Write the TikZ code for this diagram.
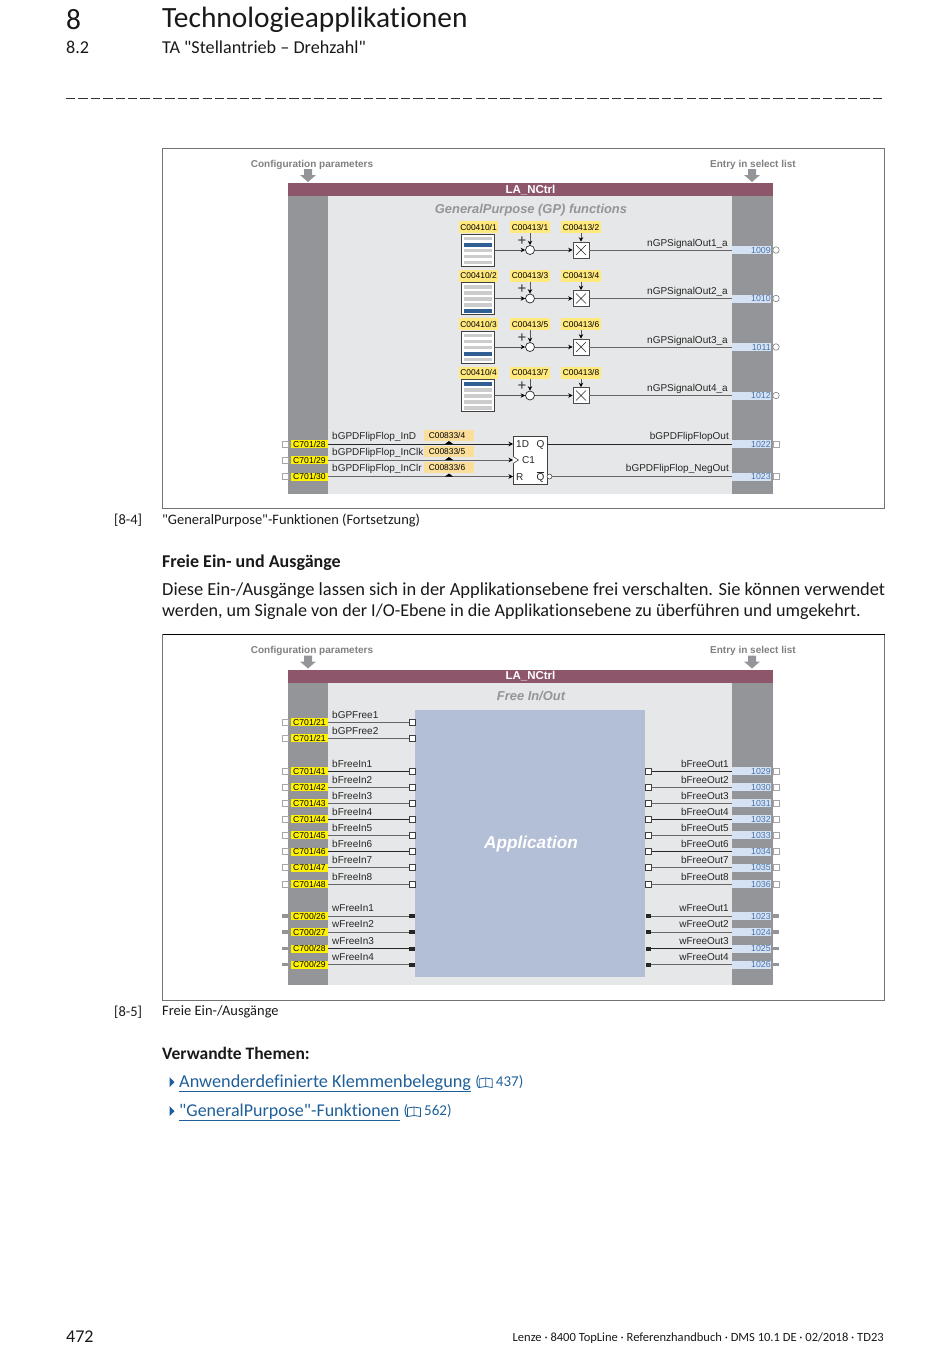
\documentclass[tikz,border=0pt]{standalone}
\usepackage{fontspec}
\setmainfont{Carlito}
\newfontfamily\pagefont{Carlito}[Ligatures=NoCommon]
\newfontfamily\diagfont{Liberation Sans}
\usetikzlibrary{arrows.meta,positioning}
\definecolor{barred}{HTML}{8E566B}
\definecolor{colgrey}{HTML}{939598}
\definecolor{panelbg}{HTML}{E6E7E8}
\definecolor{appblue}{HTML}{B3BFD6}
\definecolor{paryellow}{HTML}{FFF200}
\definecolor{codeyellow}{HTML}{FFE87C}
\definecolor{codeorange}{HTML}{FBDE9A}
\definecolor{listblue}{HTML}{D5E2F3}
\definecolor{listtext}{HTML}{4A74AB}
\definecolor{linkblue}{HTML}{1F5F99}
\definecolor{rowblue}{HTML}{2F5F93}
\tikzset{
pagetext/.style={anchor=west,inner sep=0pt,text=black!90,execute at begin node=\pagefont},
diagtext/.style={inner sep=0pt,text=black!85,font=\diagfont\fontsize{10}{11}\selectfont},
headtext/.style={inner sep=0pt,text=black!50,font=\diagfont\bfseries\fontsize{10}{11}\selectfont},
partext/.style={inner sep=0pt,minimum width=37pt,minimum height=8pt,text height=6.4pt,text depth=0pt,fill=paryellow,text=black,font=\diagfont\fontsize{8.6}{9}\selectfont},
codetext/.style={inner sep=0pt,minimum width=39pt,minimum height=12pt,fill=codeyellow,text=black,font=\diagfont\fontsize{8.4}{9}\selectfont},
ordertext/.style={inner sep=0pt,minimum width=50pt,minimum height=11pt,fill=codeorange},
ordercode/.style={inner sep=0pt,text=black,font=\diagfont\fontsize{8.4}{9}\selectfont},
listtag/.style={inner sep=.5pt,minimum height=8pt,text height=6.4pt,text depth=0pt,text width=38pt,align=right,fill=listblue,text=listtext,font=\diagfont\fontsize{8.8}{9}\selectfont},
opensq/.style={draw=black!35,fill=white,line width=.6pt,inner sep=0pt,minimum size=6pt},
pinsq/.style={draw=black!75,fill=white,line width=.8pt,inner sep=0pt,minimum size=6pt},
greytab/.style={fill=colgrey,inner sep=0pt,minimum width=6pt,minimum height=3.5pt},
blacktab/.style={fill=black!85,inner sep=0pt,minimum width=5.5pt,minimum height=4pt},
sig/.style={draw=black!60,line width=.8pt},
sigdark/.style={draw=black!85,line width=1pt},
feed/.style={draw=black!65,line width=.7pt,-{Stealth[length=4.5pt,width=4.5pt,color=black]}},
ringout/.style={circle,draw=black!50,fill=white,line width=.6pt,inner sep=0pt,minimum size=6.5pt},
sumring/.style={circle,draw=black!85,fill=white,line width=.7pt,inner sep=0pt,minimum size=9pt},
crossbox/.style={draw=black!70,fill=white,line width=.7pt,inner sep=0pt,minimum size=16pt},
tablebox/.style={draw=black!75,fill=white,line width=.8pt,inner sep=0pt,minimum width=33pt,minimum height=32pt},
bullet/.style={fill=linkblue},
link/.style={pagetext,text=linkblue,font=\fontsize{18.25}{22}\selectfont},
linkref/.style={pagetext,text=linkblue,font=\fontsize{15}{18}\selectfont},
bookicon/.style={linkblue,line width=.8pt},
barhead/.style={fill=barred,minimum width=485pt,minimum height=13pt,inner sep=0pt,text height=8.5pt,text depth=1pt,text=white,font=\diagfont\bfseries\fontsize{11.5}{12}\selectfont}
}
% left signal: name, y, parameter, text, line style
\newcommand{\boolin}[5]{
\node[opensq] (#1sq) at (285,#2) {};
\node[partext] (#1par) at (309.5,#2) {#3};
\node[diagtext,anchor=west] (#1txt) at (332,#2-7.5) {#4};
\node[pinsq] (#1pin) at (412,#2) {};
\draw[#5] (#1par.east) -- (#1pin.west);
}
\newcommand{\wordin}[5]{
\node[greytab] (#1sq) at (285,#2) {};
\node[partext] (#1par) at (309.5,#2) {#3};
\node[diagtext,anchor=west] (#1txt) at (332,#2-7.5) {#4};
\node[blacktab] (#1pin) at (412,#2) {};
\draw[#5] (#1par.east) -- (#1pin.west);
}
% right signal: name, y, list number, text, line style
\newcommand{\boolout}[5]{
\node[pinsq] (#1pin) at (648.5,#2) {};
\node[diagtext,anchor=east] (#1txt) at (729,#2-7.5) {#4};
\node[listtag,anchor=west] (#1tag) at (732,#2) {#3};
\node[opensq] (#1sq) at (776,#2) {};
\draw[#5] (#1pin.east) -- (#1tag.west);
}
\newcommand{\wordout}[5]{
\node[blacktab] (#1pin) at (648.5,#2) {};
\node[diagtext,anchor=east] (#1txt) at (729,#2-7.5) {#4};
\node[listtag,anchor=west] (#1tag) at (732,#2) {#3};
\node[greytab] (#1sq) at (776,#2) {};
\draw[#5] (#1pin.east) -- (#1tag.west);
}
% function group: name, y of signal, three codes, dark row, text, list number
\newcommand{\gpgroup}[8]{
\node[codetext] (#1a) at (478.5,#2-23) {#3};
\node[codetext,minimum width=40pt] (#1b) at (530,#2-23) {#4};
\node[codetext,minimum width=40pt] (#1c) at (581,#2-23) {#5};
\node[tablebox] (#1tab) at (477.5,#2) {};
\fill[black!20] (463.5,#2-13.5) rectangle (491.5,#2-10);
\fill[black!20] (463.5,#2-7.5) rectangle (491.5,#2-4);
\fill[black!20] (463.5,#2-1.5) rectangle (491.5,#2+2);
\fill[black!20] (463.5,#2+4.5) rectangle (491.5,#2+8);
\fill[black!20] (463.5,#2+10.5) rectangle (491.5,#2+14);
\fill[rowblue] (463.5,#2-19.5+6*#6) rectangle (491.5,#2-15.5+6*#6);
\node[sumring] (#1sum) at (530,#2) {};
\node[inner sep=0pt,text=black!80,font=\diagfont\fontsize{15}{15}\selectfont] (#1plus) at (522,#2-9) {+};
\node[crossbox] (#1box) at (581,#2) {};
\draw[black!85,line width=.6pt] (#1box.center)+(-5,-5) -- +(5,5) +(-5,5) -- +(5,-5);
\node[diagtext,anchor=east] (#1txt) at (728,#2-6.5) {#7};
\node[listtag,anchor=west] (#1tag) at (732,#2) {#8};
\node[ringout] (#1out) at (776,#2) {};
\draw[feed] (#1tab.east) -- (#1sum.west);
\draw[feed] (#1sum.east) -- (#1box.west);
\draw[feed] (#1b.south) -- (#1sum.north);
\draw[feed] (#1c.south) -- (#1box.north);
\draw[sig] (#1box.east) -- (#1tag.west);
}
\begin{document}
\begin{tikzpicture}[x=1pt,y=-1pt]
\path[use as bounding box] (0,0) rectangle (950,1370);
% page head
\node[pagetext,font=\fontsize{29.4}{32}\selectfont] (chapno) at (66,20) {8};
\node[pagetext,font=\fontsize{29.4}{32}\selectfont] (chaptitle) at (162,20) {Technologieapplikationen};
\node[pagetext,font=\fontsize{18.15}{21}\selectfont] (secno) at (66,47.5) {8.2};
\node[pagetext,font=\fontsize{18.15}{21}\selectfont] (sectitle) at (162,47.5) {TA "Stellantrieb – Drehzahl"};
\draw[black!80,line width=.8pt,dash pattern=on 9.3pt off 3.11pt] (66,98) -- (882,98);
% first figure
\draw[black!55,line width=.7pt] (162.5,148.5) rectangle (884.5,508.5);
\node[headtext] (cfgA) at (312,164.5) {Configuration parameters};
\node[headtext] (entA) at (753,164.5) {Entry in select list};
\fill[colgrey] (304,169) -- (312,169) -- (312,175) -- (316,175) -- (308,182) -- (300,175) -- (304,175) -- cycle;
\fill[colgrey] (748,169) -- (756,169) -- (756,175) -- (760,175) -- (752,182) -- (744,175) -- (748,175) -- cycle;
\fill[panelbg] (328,196) rectangle (732,494);
\fill[colgrey] (288,196) rectangle (328,494);
\fill[colgrey] (732,196) rectangle (773,494);
\node[barhead] (barA) at (530.5,189.5) {LA\_NCtrl};
\node[inner sep=0pt,text=colgrey,font=\diagfont\bfseries\itshape\fontsize{12.9}{14}\selectfont] (gptitle) at (531,210.5) {GeneralPurpose (GP) functions};
\gpgroup{gpa}{250}{C00410/1}{C00413/1}{C00413/2}{2}{nGPSignalOut1\_a}{1009}
\gpgroup{gpb}{298.5}{C00410/2}{C00413/3}{C00413/4}{5}{nGPSignalOut2\_a}{1010}
\gpgroup{gpc}{347}{C00410/3}{C00413/5}{C00413/6}{4}{nGPSignalOut3\_a}{1011}
\gpgroup{gpd}{395.5}{C00410/4}{C00413/7}{C00413/8}{1}{nGPSignalOut4\_a}{1012}
% flip-flop
\node[draw=black!75,fill=white,line width=.8pt,inner sep=0pt,minimum width=34pt,minimum height=48pt] (ff) at (530,460) {};
\coordinate (ffD) at (513,444);
\coordinate (ffC) at (513,460);
\coordinate (ffR) at (513,476.5);
\coordinate (ffQ) at (547,444);
\node[diagtext,anchor=west] (ffDtxt) at (516,444.5) {1D};
\node[diagtext,anchor=west] (ffCtxt) at (522,460.5) {C1};
\node[diagtext,anchor=west] (ffRtxt) at (516,477) {R};
\node[diagtext,anchor=west] (ffQtxt) at (536.5,444.5) {Q};
\node[diagtext,anchor=west] (ffNtxt) at (536.5,477) {$\overline{\mbox{Q}}$};
\draw[black!75,line width=.6pt,fill=white] (513,456.5) -- (518.5,460) -- (513,463.5);
\node[ringout,draw=black!70,minimum size=5pt] (ffN) at (549.5,476.5) {};
\node[partext] (parD) at (309.5,444) {C701/28};
\node[partext] (parC) at (309.5,460) {C701/29};
\node[partext] (parR) at (309.5,476.5) {C701/30};
\node[opensq] (sqD) at (285,444) {};
\node[opensq] (sqC) at (285,460) {};
\node[opensq] (sqR) at (285,476.5) {};
\node[ordertext] (ordD) at (449,435.5) {};
\node[ordertext] (ordC) at (449,451.5) {};
\node[ordertext] (ordR) at (449,467.5) {};
\node[diagtext,anchor=west] (txtD) at (332,436.5) {bGPDFlipFlop\_InD};
\node[diagtext,anchor=west] (txtC) at (332,452.5) {bGPDFlipFlop\_InClk};
\node[diagtext,anchor=west] (txtR) at (332,468.5) {bGPDFlipFlop\_InClr};
\node[ordercode] (codeD) at (447,435.5) {C00833/4};
\node[ordercode] (codeC) at (447,451.5) {C00833/5};
\node[ordercode] (codeR) at (447,467.5) {C00833/6};
\draw[sigdark,-{Stealth[length=4.5pt,width=4.5pt,color=black]}] (parD.east) -- (ffD);
\draw[sig,-{Stealth[length=4.5pt,width=4.5pt,color=black]}] (parC.east) -- (ffC);
\draw[sig,-{Stealth[length=4.5pt,width=4.5pt,color=black]}] (parR.east) -- (ffR);
\fill[black] (445,444) -- (449,441) -- (453,444) -- cycle;
\fill[black] (445,460) -- (449,457) -- (453,460) -- cycle;
\fill[black] (445,476.5) -- (449,473.5) -- (453,476.5) -- cycle;
\node[listtag,anchor=west] (tagQ) at (732,444) {1022};
\node[listtag,anchor=west] (tagN) at (732,476.5) {1023};
\node[opensq] (endQ) at (776,444) {};
\node[opensq] (endN) at (776,476.5) {};
\node[diagtext,anchor=east] (txtQ) at (729,436.5) {bGPDFlipFlopOut};
\node[diagtext,anchor=east] (txtN) at (729,468.5) {bGPDFlipFlop\_NegOut};
\draw[sigdark] (ffQ) -- (tagQ.west);
\draw[sig] (ffN.east) -- (tagN.west);
% captions and text
\node[pagetext,font=\fontsize{14.45}{18}\selectfont] (capnoA) at (114,520) {[8-4]};
\node[pagetext,font=\fontsize{14.45}{18}\selectfont] (capA) at (162,520) {"GeneralPurpose"-Funktionen (Fortsetzung)};
\node[pagetext,font=\bfseries\fontsize{18}{21}\selectfont] (headfree) at (162,562.5) {Freie Ein- und Ausgänge};
\node[pagetext,font=\fontsize{18.43}{22}\selectfont] (paraA) at (162,591) {Diese Ein-/Ausgänge lassen sich in der Applikationsebene frei verschalten. Sie können verwendet};
\node[pagetext,font=\fontsize{18.1}{22}\selectfont] (paraB) at (162,611.5) {werden, um Signale von der I/O-Ebene in die Applikationsebene zu überführen und umgekehrt.};
% second figure
\draw[black!55,line width=.7pt] (162.5,634.5) rectangle (884.5,1000);
\draw[black,line width=.8pt] (162.5,634.5) -- (884.5,634.5);
\node[headtext] (cfgB) at (312,650.5) {Configuration parameters};
\node[headtext] (entB) at (753,650.5) {Entry in select list};
\fill[colgrey] (304,655.5) -- (312,655.5) -- (312,661.5) -- (316,661.5) -- (308,668.5) -- (300,661.5) -- (304,661.5) -- cycle;
\fill[colgrey] (748,655.5) -- (756,655.5) -- (756,661.5) -- (760,661.5) -- (752,668.5) -- (744,661.5) -- (748,661.5) -- cycle;
\fill[panelbg] (328,682) rectangle (732,985);
\fill[colgrey] (288,682) rectangle (328,985);
\fill[colgrey] (732,682) rectangle (773,985);
\node[barhead] (barB) at (530.5,676) {LA\_NCtrl};
\node[inner sep=0pt,text=colgrey,font=\diagfont\bfseries\itshape\fontsize{12.9}{14}\selectfont] (freetitle) at (531,696) {Free In/Out};
\node[fill=appblue,minimum width=230pt,minimum height=267pt,inner sep=0pt,text depth=1.5pt,text=white,font=\diagfont\bfseries\itshape\fontsize{17.2}{19}\selectfont] (app) at (530,843.5) {\hspace*{2pt}Application};
\boolin{fa}{722}{C701/21}{bGPFree1}{sig}
\boolin{fb}{738}{C701/21}{bGPFree2}{sig}
\boolin{ia}{771}{C701/41}{bFreeIn1}{sigdark}
\boolin{ib}{787}{C701/42}{bFreeIn2}{sig}
\boolin{ic}{803}{C701/43}{bFreeIn3}{sig}
\boolin{id}{819}{C701/44}{bFreeIn4}{sigdark}
\boolin{ie}{835}{C701/45}{bFreeIn5}{sig}
\boolin{if}{851.5}{C701/46}{bFreeIn6}{sigdark}
\boolin{ig}{867.5}{C701/47}{bFreeIn7}{sig}
\boolin{ih}{884}{C701/48}{bFreeIn8}{sig}
\wordin{wa}{916}{C700/26}{wFreeIn1}{sig}
\wordin{wb}{932}{C700/27}{wFreeIn2}{sig}
\wordin{wc}{948.5}{C700/28}{wFreeIn3}{sigdark}
\wordin{wd}{964.5}{C700/29}{wFreeIn4}{sig}
\boolout{oa}{771}{1029}{bFreeOut1}{sigdark}
\boolout{ob}{787}{1030}{bFreeOut2}{sig}
\boolout{oc}{803}{1031}{bFreeOut3}{sig}
\boolout{od}{819}{1032}{bFreeOut4}{sigdark}
\boolout{oe}{835}{1033}{bFreeOut5}{sig}
\boolout{of}{851.5}{1034}{bFreeOut6}{sigdark}
\boolout{og}{867.5}{1035}{bFreeOut7}{sig}
\boolout{oh}{884}{1036}{bFreeOut8}{sig}
\wordout{xa}{916}{1023}{wFreeOut1}{sig}
\wordout{xb}{932}{1024}{wFreeOut2}{sig}
\wordout{xc}{948.5}{1025}{wFreeOut3}{sigdark}
\wordout{xd}{964.5}{1026}{wFreeOut4}{sig}
\node[pagetext,font=\fontsize{14.45}{18}\selectfont] (capnoB) at (114,1012) {[8-5]};
\node[pagetext,font=\fontsize{14.45}{18}\selectfont] (capB) at (162,1012) {Freie Ein-/Ausgänge};
% related topics
\node[pagetext,font=\bfseries\fontsize{17.5}{21}\selectfont] (headrel) at (162,1053.5) {Verwandte Themen:};
\fill[bullet] (169.5,1077) -- (174.5,1082) -- (169.5,1087) -- cycle;
\fill[bullet] (169.5,1106) -- (174.5,1111) -- (169.5,1116) -- cycle;
\node[link] (lnkA) at (179,1082.5) {Anwenderdefinierte Klemmenbelegung};
\node[link,font=\fontsize{18}{22}\selectfont] (lnkB) at (179,1111.5) {"GeneralPurpose"-Funktionen};
\draw[linkblue,line width=.8pt] (179,1091.5) -- (lnkA.south east |- 0,1091.5);
\draw[linkblue,line width=.8pt] (179,1120.5) -- (lnkB.south east |- 0,1120.5);
\node[linkref,right=4pt of lnkA] (refA) {(\hspace{16pt}437)};
\node[linkref,right=4pt of lnkB] (refB) {(\hspace{16pt}562)};
\draw[bookicon,shift={(refA.west)}] (4,-3.5) -- (10.5,-4.5) -- (10.5,4) -- (4,5) -- cycle (10.5,-4.5) -- (17,-3.5) -- (17,5) -- (10.5,4);
\draw[bookicon,shift={(refB.west)}] (4,-3.5) -- (10.5,-4.5) -- (10.5,4) -- (4,5) -- cycle (10.5,-4.5) -- (17,-3.5) -- (17,5) -- (10.5,4);
% page foot
\node[pagetext,font=\fontsize{18}{21}\selectfont] (pageno) at (66,1336.5) {472};
\node[pagetext,anchor=east,font=\fontsize{12.53}{16}\selectfont] (foot) at (884,1338.5) {Lenze · 8400 TopLine · Referenzhandbuch · DMS 10.1 DE · 02/2018 · TD23};
\end{tikzpicture}
\end{document}
